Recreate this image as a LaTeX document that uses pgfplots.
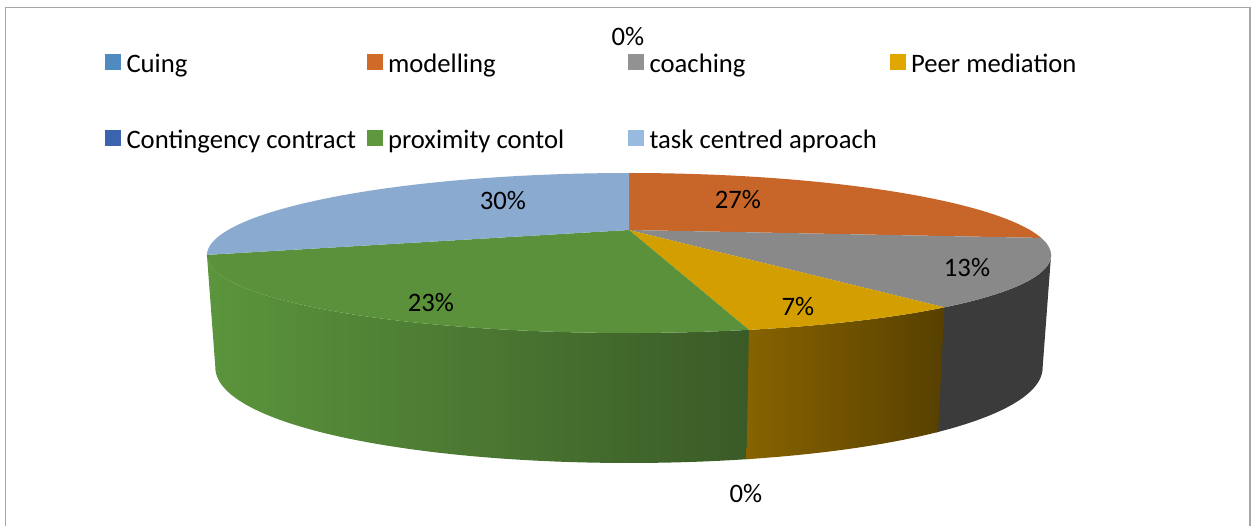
\documentclass[border=0pt]{standalone}
\usepackage{pgfplots}
\pgfplotsset{compat=1.18}
\usepackage{fontspec}
\setmainfont{Carlito}
\definecolor{cCuing}{HTML}{4F8BC0}
\definecolor{cModel}{HTML}{D06A28}
\definecolor{cCoach}{HTML}{929292}
\definecolor{cPeer}{HTML}{E0A700}
\definecolor{cCont}{HTML}{3C64AE}
\definecolor{cProx}{HTML}{5E973E}
\definecolor{cTask}{HTML}{99BADF}
\definecolor{tModel}{HTML}{C8662A}
\definecolor{tCoach}{HTML}{898989}
\definecolor{tPeer}{HTML}{D39F00}
\definecolor{tProx}{HTML}{5A913A}
\definecolor{tTask}{HTML}{8AABCF}
\definecolor{sCoach}{HTML}{3B3B3B}
\definecolor{sPeerL}{HTML}{876300}
\definecolor{sPeerR}{HTML}{574000}
\definecolor{sProxL}{HTML}{5B953C}
\definecolor{sProxR}{HTML}{3A5A27}
\definecolor{frame}{HTML}{A6A6A6}
% values (percent, as estimated from the slices; labels are rounded)
\def\vCuing{0}\def\vModel{26.67}\def\vCoach{13.33}\def\vPeer{6.67}\def\vCont{0}\def\vProx{23.33}\def\vTask{30}%
\pgfmathsetmacro\tA{90}%
\pgfmathsetmacro\tB{\tA-3.6*\vCuing}%
\pgfmathsetmacro\tC{\tB-3.6*\vModel}%
\pgfmathsetmacro\tD{\tC-3.6*\vCoach}%
\pgfmathsetmacro\tE{\tD-3.6*\vPeer}%
\pgfmathsetmacro\tF{\tE-3.6*\vCont}%
\pgfmathsetmacro\tG{\tF-3.6*\vProx}%
\pgfmathsetmacro\tH{\tG-3.6*\vTask}%
% silhouette angles of the perspective outline (sin t = -1/3.2)
\pgfmathsetmacro\tR{-asin(1/3.2)}%
\pgfmathsetmacro\tL{-180+asin(1/3.2)}%
\begin{document}%
\begin{tikzpicture}[font=\fontsize{20}{24}\selectfont, declare function={
  px(\t)=629+1283*cos(\t)/(3.2+sin(\t));
  py(\t)=230-255.2*sin(\t)/(3.478+sin(\t));
  bx(\t)=629+0.98*1283*cos(\t)/(3.2+sin(\t));
  by(\t)=230-255.2*sin(\t)/(3.478+sin(\t))+572/(5.4+sin(\t));
  tt(\s,\p,\q)=(\s<=1.05) ? \p+min(\s,1)*(\q-\p) : \q-min(max(\s-1.1,0),1)*(\q-\p);
  sx(\s,\p,\q)=(\s<=1.05) ? px(tt(\s,\p,\q)) : bx(tt(\s,\p,\q));
  sy(\s,\p,\q)=(\s<=1.05) ? py(tt(\s,\p,\q)) : by(tt(\s,\p,\q));
}]
\begin{axis}[
  scale only axis, width=940.5pt, height=394.5pt,
  xmin=0, xmax=1254, ymin=0, ymax=526, y dir=reverse,
  hide axis, clip=false,
  legend columns=4,
  legend image code/.code={\fill[#1] (0pt,-5.6pt) rectangle (11.25pt,5.6pt);},
  legend style={draw=none, fill=none, at={(axis cs:105,50)}, anchor=north west,
    inner sep=0pt, outer sep=0pt, row sep=38.6pt,
    nodes={inner sep=0pt, outer sep=0pt},
    /tikz/every odd column/.append style={column sep=4.5pt}},
]
\path (axis cs:0,0) rectangle (axis cs:1254,526);
\draw[frame, line width=0.9pt] (axis cs:5.5,526) -- (axis cs:5.5,7.3) -- (axis cs:1250,7.3) -- (axis cs:1250,526);

% sides (drawn back to front, visible part only)
\addplot[forget plot, draw=none, fill=sCoach, domain=0:2.2, samples=177, variable=\s]
  ({sx(\s,\tR,\tD-0.3)},{sy(\s,\tR,\tD-0.3)}) -- cycle;
\addplot[forget plot, draw=none, left color=sProxL, right color=sProxR, domain=0:2.2, samples=177, variable=\s]
  ({sx(\s,\tF+0.3,\tL)},{sy(\s,\tF+0.3,\tL)}) -- cycle;
\addplot[forget plot, draw=none, left color=sPeerL, right color=sPeerR, domain=0:2.2, samples=177, variable=\s]
  ({sx(\s,\tD,\tE)},{sy(\s,\tD,\tE)}) -- cycle;

% top faces
\addplot[forget plot, draw=none, fill=tModel, domain=\tC:\tB, samples=80, variable=\t]
  ({px(\t)},{py(\t)}) -- (axis cs:629,230) -- cycle;
\addplot[forget plot, draw=none, fill=tCoach, domain=\tD:\tC, samples=50, variable=\t]
  ({px(\t)},{py(\t)}) -- (axis cs:629,230) -- cycle;
\addplot[forget plot, draw=none, fill=tPeer, domain=\tE:\tD, samples=30, variable=\t]
  ({px(\t)},{py(\t)}) -- (axis cs:629,230) -- cycle;
\addplot[forget plot, draw=none, fill=tProx, domain=\tG:\tF, samples=80, variable=\t]
  ({px(\t)},{py(\t)}) -- (axis cs:629,230) -- cycle;
\addplot[forget plot, draw=none, fill=tTask, domain=\tH:\tG, samples=100, variable=\t]
  ({px(\t)},{py(\t)}) -- (axis cs:629,230) -- cycle;

% data labels
\node at (axis cs:628,37) {0\%};
\node at (axis cs:738,200) {27\%};
\node at (axis cs:967,268) {13\%};
\node at (axis cs:798,307) {7\%};
\node at (axis cs:746,494) {0\%};
\node at (axis cs:431,303) {23\%};
\node at (axis cs:503,201) {30\%};

% legend
\addlegendimage{cCuing}\addlegendentry{\makebox[180pt][l]{\strut Cuing}}
\addlegendimage{cModel}\addlegendentry{\makebox[180pt][l]{\strut modelling}}
\addlegendimage{cCoach}\addlegendentry{\makebox[180pt][l]{\strut coaching}}
\addlegendimage{cPeer}\addlegendentry{\makebox[180pt][l]{\strut Peer mediation}}
\addlegendimage{cCont}\addlegendentry{\makebox[180pt][l]{\strut Contingency contract}}
\addlegendimage{cProx}\addlegendentry{\makebox[180pt][l]{\strut proximity contol}}
\addlegendimage{cTask}\addlegendentry{\makebox[180pt][l]{\strut task centred aproach}}
\end{axis}
\end{tikzpicture}%
\end{document}
